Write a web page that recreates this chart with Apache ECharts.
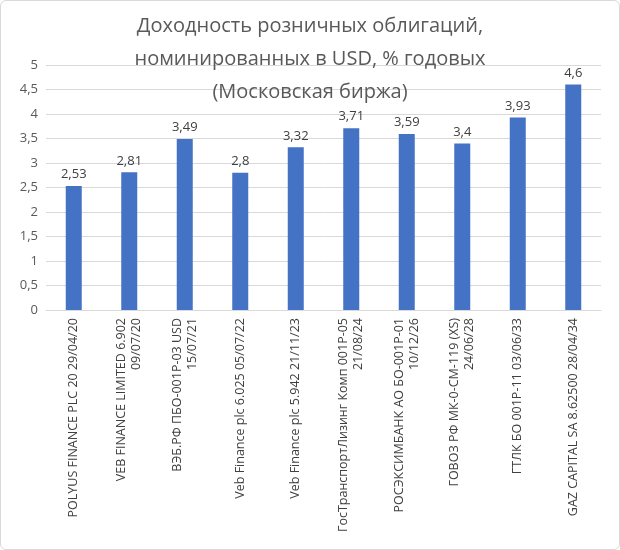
<!DOCTYPE html>
<html><head><meta charset="utf-8">
<script src="https://cdn.jsdelivr.net/npm/echarts@6/dist/echarts.min.js"></script>
<style>body{margin:0;background:#fff}#c{width:620px;height:550px;box-sizing:border-box;border:1px solid #d9d9d9;border-radius:6px}</style>
</head><body><div id="c"></div>
<script>
const categories = [
 "POLYUS FINANCE PLC 20 29/04/20",
 "VEB FINANCE LIMITED 6.902\n09/07/20",
 "ВЭБ.РФ ПБО-001Р-03 USD\n15/07/21",
 "Veb Finance plc 6.025 05/07/22",
 "Veb Finance plc 5.942 21/11/23",
 "ГосТранспортЛизинг Комп 001Р-05\n21/08/24",
 "РОСЭКСИМБАНК АО БО-001Р-01\n10/12/26",
 "ГОВОЗ РФ МК-0-СМ-119 (XS)\n24/06/28",
 "ГТЛК БО 001Р-11 03/06/33",
 "GAZ CAPITAL SA 8.62500 28/04/34"
];
const values = [2.53, 2.81, 3.49, 2.8, 3.32, 3.71, 3.59, 3.4, 3.93, 4.6];
const yTicks = [0, 0.5, 1, 1.5, 2, 2.5, 3, 3.5, 4, 4.5, 5];
const fmt = v => String(v).replace('.', ',');
const chart = echarts.init(document.getElementById('c'));
chart.setOption({
  animation: false,
  textStyle: {fontFamily: 'Open Sans, Liberation Sans, sans-serif'},
  title: {text: 'Доходность розничных облигаций,\nноминированных в USD, % годовых\n(Московская биржа)', left: 'center', top: 4,
    textStyle: {fontSize: 20, fontWeight: 'normal', color: '#595959', lineHeight: 33, fontFamily: 'Open Sans, sans-serif'}},
  grid: {left: 45, right: 18, top: 64, bottom: 239},
  xAxis: {type: 'category', data: categories,
    axisTick: {show: false}, axisLine: {lineStyle: {color: '#d9d9d9'}},
    axisLabel: {rotate: 90, interval: 0, color: '#404040', fontSize: 12.5, lineHeight: 15, margin: 8}},
  yAxis: {type: 'value', min: 0, max: yTicks[yTicks.length-1], interval: 0.5,
    axisLabel: {color: '#595959', fontSize: 13, formatter: v => fmt(v)},
    splitLine: {lineStyle: {color: '#d9d9d9'}}},
  series: [{type: 'bar', data: values, barWidth: 16, itemStyle: {color: '#4472c4'},
    label: {show: true, position: 'top', color: '#404040', fontSize: 13, formatter: p => fmt(p.value)}}]
});
</script></body></html>
